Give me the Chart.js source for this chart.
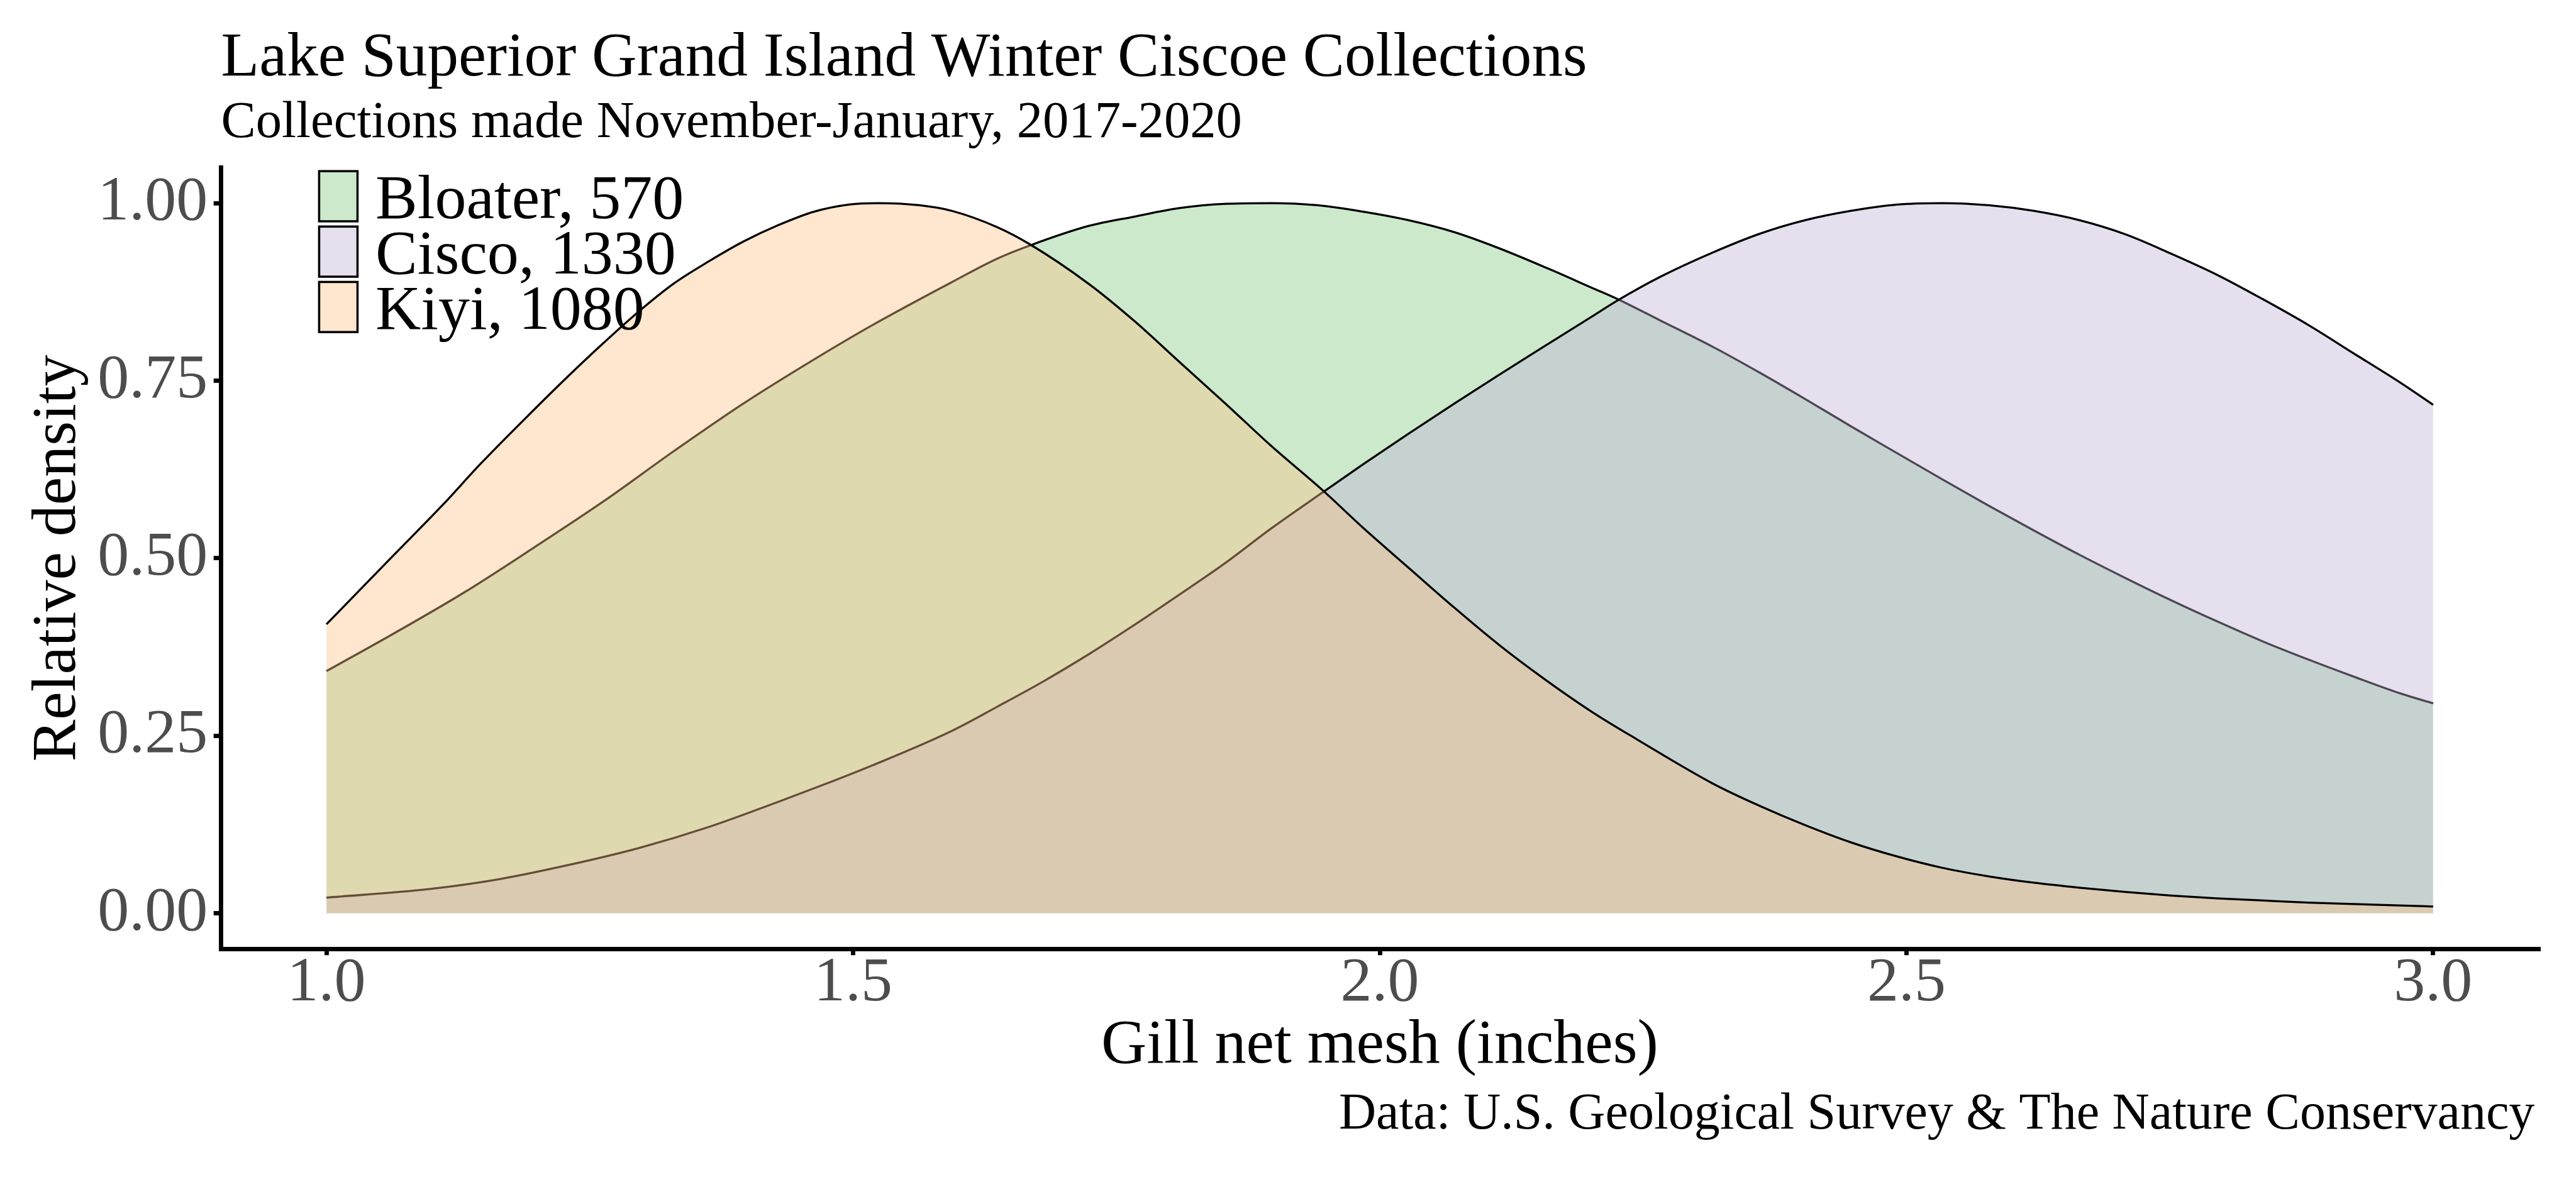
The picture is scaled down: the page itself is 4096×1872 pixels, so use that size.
<!DOCTYPE html>
<html>
<head>
<meta charset="utf-8">
<script src="https://cdn.jsdelivr.net/npm/chart.js@4.4.1/dist/chart.umd.min.js"></script>
<style>
  html, body { margin: 0; padding: 0; background: #ffffff; }
  #wrap { width: 4096px; height: 1872px; }
</style>
</head>
<body>
<div id="wrap"><canvas id="c" width="4096" height="1872"></canvas></div>
<script>
// ---------------- data ----------------
const titleText = 'Lake Superior Grand Island Winter Ciscoe Collections';
const subtitleText = 'Collections made November-January, 2017-2020';
const captionText = 'Data: U.S. Geological Survey & The Nature Conservancy';
const xAxisTitle = 'Gill net mesh (inches)';
const yAxisTitle = 'Relative density';

const species = ['Bloater', 'Cisco', 'Kiyi'];
const counts = [570, 1330, 1080];

const xTicks = [1.0, 1.5, 2.0, 2.5, 3.0];
const xTickLabels = ['1.0', '1.5', '2.0', '2.5', '3.0'];
const yTicks = [0, 0.25, 0.5, 0.75, 1.0];
const yTickLabels = ['0.00', '0.25', '0.50', '0.75', '1.00'];

const bloaterMesh = [1.000,1.064,1.131,1.197,1.263,1.330,1.396,1.463,1.518,1.594,1.637,1.669,1.724,1.767,1.810,1.854,1.897,1.941,1.984,2.027,2.071,2.114,2.158,2.201,2.227,2.266,2.317,2.361,2.404,2.447,2.491,2.534,2.578,2.621,2.664,2.708,2.751,2.795,2.838,2.882,2.925,2.968,3.000];
const bloaterDensity = [0.341,0.394,0.452,0.515,0.580,0.651,0.718,0.780,0.828,0.889,0.922,0.941,0.968,0.981,0.993,0.999,1.000,0.997,0.988,0.976,0.959,0.936,0.909,0.881,0.864,0.835,0.797,0.761,0.724,0.686,0.648,0.611,0.574,0.539,0.505,0.472,0.441,0.411,0.383,0.357,0.333,0.310,0.2955];

const ciscoMesh = [1.000,1.097,1.164,1.230,1.297,1.363,1.429,1.479,1.518,1.594,1.637,1.680,1.724,1.767,1.810,1.854,1.897,1.947,1.984,2.027,2.071,2.114,2.158,2.201,2.227,2.266,2.317,2.361,2.404,2.447,2.491,2.534,2.578,2.621,2.664,2.708,2.751,2.795,2.838,2.882,2.925,2.968,3.000];
const ciscoDensity = [0.022,0.034,0.048,0.068,0.092,0.1215,0.157,0.185,0.208,0.257,0.291,0.326,0.365,0.406,0.449,0.494,0.542,0.594,0.632,0.675,0.718,0.759,0.800,0.840,0.864,0.896,0.931,0.957,0.976,0.989,0.998,1.000,0.997,0.989,0.976,0.956,0.929,0.899,0.865,0.828,0.788,0.748,0.716];

const kiyiMesh = [1.000,1.064,1.111,1.147,1.197,1.230,1.263,1.297,1.330,1.363,1.396,1.429,1.463,1.496,1.524,1.563,1.594,1.637,1.669,1.724,1.767,1.810,1.854,1.897,1.947,1.984,2.027,2.071,2.114,2.158,2.201,2.244,2.317,2.361,2.404,2.447,2.491,2.534,2.578,2.621,2.664,2.708,2.751,2.795,2.838,2.882,2.925,2.968,3.000];
const kiyiDensity = [0.407,0.5045,0.576,0.634,0.709,0.757,0.803,0.848,0.887,0.918,0.946,0.969,0.988,0.998,1.000,0.997,0.989,0.966,0.941,0.886,0.834,0.776,0.717,0.658,0.594,0.543,0.487,0.430,0.377,0.328,0.284,0.245,0.182,0.151,0.124,0.100,0.080,0.064,0.052,0.043,0.036,0.030,0.025,0.021,0.018,0.015,0.013,0.011,0.0095];

// ---------------- styles ----------------
const FONT = '"Liberation Serif", "Times New Roman", serif';
const fillColors = ['rgba(127,201,127,0.4)', 'rgba(190,174,212,0.4)', 'rgba(253,192,134,0.4)'];
const lineColor = '#000000';
const tickLabelColor = '#4d4d4d';

const meshes = [bloaterMesh, ciscoMesh, kiyiMesh];
const densities = [bloaterDensity, ciscoDensity, kiyiDensity];

const datasets = species.map((sp, i) => ({
  label: sp + ', ' + counts[i],
  data: meshes[i].map((x, j) => ({ x: x, y: densities[i][j] })),
  fill: 'origin',
  backgroundColor: fillColors[i],
  borderColor: lineColor,
  borderWidth: 3.3,
  pointRadius: 0,
  pointHoverRadius: 0,
  cubicInterpolationMode: 'monotone',
  order: species.length - i
}));

// legend + caption drawn on top of the plot
const overlay = {
  id: 'overlay',
  afterDraw(chart) {
    const ctx = chart.ctx;
    const a = chart.chartArea;
    ctx.save();
    const keyL = a.left + 154.1, keyW = 64.5, keyH = 83.2, pitch = 88.1, top0 = a.top + 3.9;
    species.forEach((sp, i) => {
      const t = top0 + i * pitch;
      ctx.fillStyle = '#ffffff';
      ctx.fillRect(keyL, t, keyW, keyH);
      ctx.fillStyle = fillColors[i];
      ctx.fillRect(keyL, t, keyW, keyH);
      ctx.lineWidth = 3.5;
      ctx.strokeStyle = '#000000';
      ctx.strokeRect(keyL + 1.75, t + 1.75, keyW - 3.5, keyH - 3.5);
      ctx.fillStyle = '#000000';
      ctx.font = '100px ' + FONT;
      ctx.textAlign = 'left';
      ctx.textBaseline = 'alphabetic';
      ctx.fillText(sp + ', ' + counts[i], a.left + 245.4, t + 76.3);
    });
    ctx.font = '82px ' + FONT;
    ctx.textAlign = 'right';
    ctx.textBaseline = 'alphabetic';
    ctx.fillStyle = '#000000';
    ctx.fillText(captionText, a.right - 6, 1795.4);
    ctx.restore();
  }
};

new Chart(document.getElementById('c'), {
  type: 'line',
  data: { datasets: datasets },
  plugins: [overlay],
  options: {
    responsive: false,
    animation: false,
    devicePixelRatio: 1,
    events: [],
    layout: { padding: { left: 0, top: 0, bottom: 0, right: 59.7 } },
    plugins: {
      legend: { display: false },
      tooltip: { enabled: false },
      filler: { drawTime: 'beforeDatasetDraw' },
      title: {
        display: true, text: titleText, align: 'start', fullSize: false,
        color: '#000000',
        font: { family: FONT, size: 99.2, weight: 'normal', lineHeight: 1 },
        padding: { top: 44.12, bottom: 0 }
      },
      subtitle: {
        display: true, text: subtitleText, align: 'start', fullSize: false,
        color: '#000000',
        font: { family: FONT, size: 82.7, weight: 'normal', lineHeight: 1 },
        padding: { top: 12.02, bottom: 28.56 }
      }
    },
    scales: {
      x: {
        type: 'linear', min: 0.9, max: 3.1,
        afterBuildTicks: (s) => { s.ticks = xTicks.map(v => ({ value: v })); },
        afterFit: (s) => { s.height = 363; },
        ticks: {
          autoSkip: false, maxRotation: 0, minRotation: 0,
          callback: (v, i) => xTickLabels[i],
          color: tickLabelColor,
          font: { family: FONT, size: 100, lineHeight: 0.9 },
          padding: 0.25
        },
        grid: {
          display: true, drawOnChartArea: false, drawTicks: true,
          tickLength: 10.2, tickWidth: 6.9, tickColor: '#000000',
          color: '#000000', lineWidth: 6.9
        },
        border: { display: true, color: '#000000', width: 6.9 },
        title: {
          display: true, text: xAxisTitle, color: '#000000',
          font: { family: FONT, size: 100, lineHeight: 1 },
          padding: { top: 0, bottom: 157.85 }
        }
      },
      y: {
        type: 'linear', min: -0.05, max: 1.05,
        afterBuildTicks: (s) => { s.ticks = yTicks.map(v => ({ value: v })); },
        afterFit: (s) => { s.width = 351.6; },
        ticks: {
          autoSkip: false,
          callback: (v, i) => yTickLabels[i],
          color: tickLabelColor,
          font: { family: FONT, size: 100, lineHeight: 1 },
          padding: 9.5
        },
        grid: {
          display: true, drawOnChartArea: false, drawTicks: true,
          tickLength: 11.9, tickWidth: 6.9, tickColor: '#000000',
          color: '#000000', lineWidth: 6.9
        },
        border: { display: true, color: '#000000', width: 6.9 },
        title: {
          display: true, text: yAxisTitle, color: '#000000',
          font: { family: FONT, size: 100, lineHeight: 1 },
          padding: { top: 42.35, bottom: 0 }
        }
      }
    }
  }
});
</script>
</body>
</html>
